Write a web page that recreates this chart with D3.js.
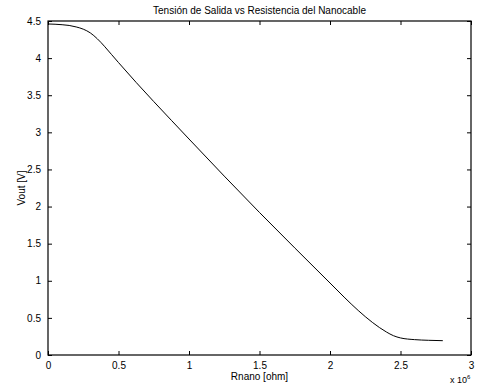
<!DOCTYPE html>
<html><head><meta charset="utf-8">
<script src="https://cdn.jsdelivr.net/npm/d3@7"></script>
<style>body{margin:0;background:#fff}svg{display:block}text{font-family:"Liberation Sans",Arial,Helvetica,sans-serif}</style>
</head><body><svg id="c" width="479" height="387"></svg>
<script>
const rnano = [0, 0.1, 0.15, 0.2, 0.25, 0.3, 0.35, 0.4, 0.45, 0.5, 1.0, 1.5, 2.0, 2.1, 2.2, 2.3, 2.4, 2.45, 2.5, 2.6, 2.7, 2.8];
const vout  = [4.46, 4.45, 4.44, 4.42, 4.39, 4.34, 4.26, 4.16, 4.05, 3.94, 2.91, 1.92, 0.97, 0.78, 0.60, 0.44, 0.31, 0.26, 0.23, 0.207, 0.198, 0.193];
const xTicks = [0, 0.5, 1, 1.5, 2, 2.5, 3];
const yTicks = [0, 0.5, 1, 1.5, 2, 2.5, 3, 3.5, 4, 4.5];
const title = "Tensión de Salida vs Resistencia del Nanocable";
const xLabel = "Rnano [ohm]", yLabel = "Vout [V]";

const L = 48, R = 471, T = 21, B = 355;
const svg = d3.select("#c");
const x = d3.scaleLinear().domain([0, 3]).range([L, R]);
const y = d3.scaleLinear().domain([0, 4.5]).range([B, T]);
const fmt = d => String(d);

function styleAxis(g){
  g.select(".domain").remove();
  g.selectAll(".tick line").attr("stroke","#000");
  g.selectAll("text").attr("font-size",10).attr("fill","#000");
}
svg.append("g").attr("transform",`translate(0,${B})`)
  .call(d3.axisBottom(x).tickValues(xTicks).tickFormat(fmt).tickSizeInner(-4).tickPadding(7))
  .call(styleAxis);
svg.append("g").attr("transform",`translate(0,${T})`)
  .call(d3.axisTop(x).tickValues(xTicks).tickFormat("").tickSizeInner(-4))
  .call(styleAxis);
svg.append("g").attr("transform",`translate(${L},0)`)
  .call(d3.axisLeft(y).tickValues(yTicks).tickFormat(fmt).tickSizeInner(-4).tickPadding(7))
  .call(styleAxis);
svg.append("g").attr("transform",`translate(${R},0)`)
  .call(d3.axisRight(y).tickValues(yTicks).tickFormat("").tickSizeInner(-4))
  .call(styleAxis);

svg.append("rect").attr("x",L).attr("y",T).attr("width",R-L).attr("height",B-T)
  .attr("fill","none").attr("stroke","#000").attr("stroke-width",1.2);

const pts = rnano.map((r,i)=>[r, vout[i]]);
svg.append("path").datum(pts)
  .attr("d", d3.line().x(d=>x(d[0])).y(d=>y(d[1])).curve(d3.curveMonotoneX))
  .attr("fill","none").attr("stroke","#000").attr("stroke-width",1);

svg.append("text").attr("x",(L+R)/2).attr("y",14).attr("text-anchor","middle")
  .attr("font-size",10).text(title);
svg.append("text").attr("x",(L+R)/2).attr("y",380).attr("text-anchor","middle")
  .attr("font-size",10).text(xLabel);
svg.append("text").attr("transform",`translate(25,${(T+B)/2}) rotate(-90)`).attr("text-anchor","middle")
  .attr("font-size",10).text(yLabel);
const ex = svg.append("text").attr("x",450).attr("y",383).attr("font-size",9);
ex.append("tspan").text("x 10");
ex.append("tspan").attr("dy",-4).attr("font-size",6).text("6");
</script></body></html>
